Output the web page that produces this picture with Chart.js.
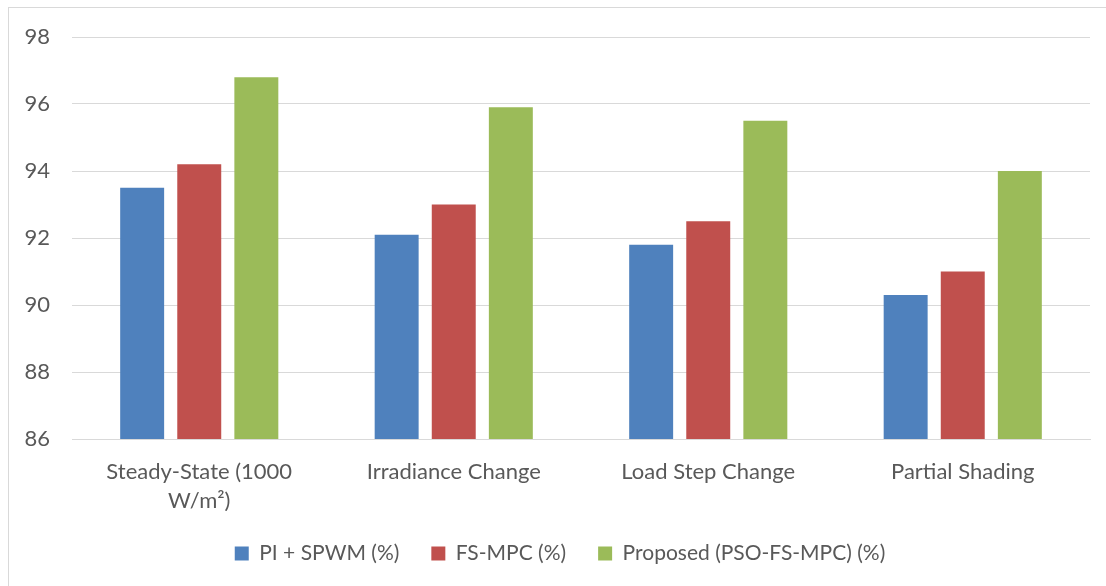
<!DOCTYPE html>
<html>
<head>
<meta charset="utf-8">
<script src="https://cdn.jsdelivr.net/npm/chart.js@4"></script>
<style>
  html, body { margin: 0; padding: 0; background: #fff; }
  #wrap { position: relative; width: 1106px; height: 586px; overflow: hidden; }
  #frame { position: absolute; left: 8px; top: 7px; width: 1200px; height: 700px; border: 1px solid #d9d9d9; box-sizing: border-box; }
  canvas { position: absolute; left: 0; top: 0; }
</style>
</head>
<body>
<div id="wrap">
  <div id="frame"></div>
  <canvas id="chart" width="1106" height="586"></canvas>
</div>
<script>
const categories = [['Steady-State (1000', 'W/m²)'], 'Irradiance Change', 'Load Step Change', 'Partial Shading'];
const piSpwm = [93.5, 92.1, 91.8, 90.3];
const fsMpc = [94.2, 93.0, 92.5, 91.0];
const proposed = [96.8, 95.9, 95.5, 94.0];
const yTicks = [86, 88, 90, 92, 94, 96, 98];

const ctx = document.getElementById('chart');
const fontFamily = 'Lato, "Open Sans", sans-serif';

// nudge the legend a bit to the right, like the original
const legendShift = {
    id: 'legendShift',
    afterLayout(chart) {
        chart.legend.left += 15;
        chart.legend.right += 15;
    }
};

new Chart(ctx, {
    type: 'bar',
    data: {
        labels: categories,
        datasets: [
            { label: 'PI + SPWM (%)', data: piSpwm, backgroundColor: '#4f81bd' },
            { label: 'FS-MPC (%)', data: fsMpc, backgroundColor: '#c0504d' },
            { label: 'Proposed (PSO-FS-MPC) (%)', data: proposed, backgroundColor: '#9bbb59' }
        ]
    },
    options: {
        responsive: false,
        animation: false,
        categoryPercentage: 0.673,
        barPercentage: 0.77,
        layout: { padding: { left: 0, right: 16, top: 37, bottom: 12 } },
        plugins: {
            tooltip: { enabled: false },
            legend: {
                position: 'bottom',
                labels: {
                    boxWidth: 14,
                    boxHeight: 14,
                    padding: 32,
                    color: '#595959',
                    font: { family: fontFamily, size: 21 }
                }
            }
        },
        scales: {
            x: {
                grid: { display: false, drawTicks: false },
                border: { display: true, color: '#d9d9d9' },
                ticks: {
                    color: '#595959',
                    padding: 19,
                    maxRotation: 0,
                    font: { family: fontFamily, size: 22, lineHeight: 1.3 }
                },
                afterFit: function (scale) { scale.height = 72; }
            },
            y: {
                min: yTicks[0],
                max: yTicks[yTicks.length - 1],
                afterBuildTicks: function (scale) { scale.ticks = yTicks.map(v => ({ value: v })); },
                grid: { color: '#d9d9d9', drawTicks: false },
                border: { display: false },
                ticks: {
                    color: '#595959',
                    padding: 22,
                    font: { family: fontFamily, size: 22 }
                },
                afterFit: function (scale) { scale.width = 72; }
            }
        }
    },
    plugins: [legendShift]
});
</script>
</body>
</html>
